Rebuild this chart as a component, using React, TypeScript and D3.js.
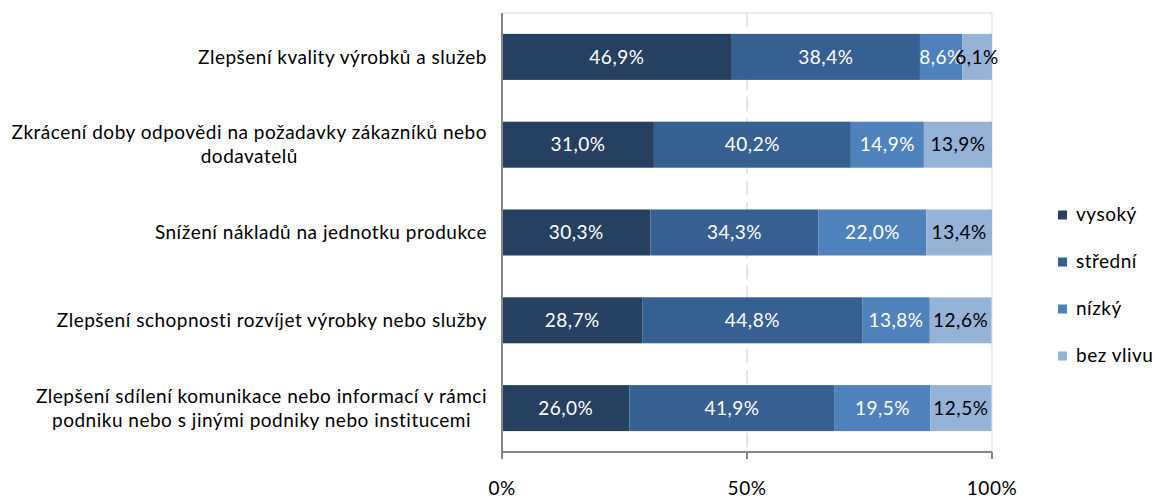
import React, { useEffect, useRef } from "react";
import * as d3 from "d3";

const categories: string[][] = [
  ["Zlepšení kvality výrobků a služeb"],
  ["Zkrácení doby odpovědi na požadavky zákazníků nebo", "dodavatelů"],
  ["Snížení nákladů na jednotku produkce"],
  ["Zlepšení schopnosti rozvíjet výrobky nebo služby"],
  ["Zlepšení sdílení komunikace nebo informací v rámci", "podniku nebo s jinými podniky nebo institucemi"],
];
const seriesNames = ["vysoký", "střední", "nízký", "bez vlivu"];
const vysoky = [46.9, 31.0, 30.3, 28.7, 26.0];
const stredni = [38.4, 40.2, 34.3, 44.8, 41.9];
const nizky = [8.6, 14.9, 22.0, 13.8, 19.5];
const bezVlivu = [6.1, 13.9, 13.4, 12.6, 12.5];
const colors = ["#254061", "#376092", "#4f81bd", "#95b3d7"];
const labelColors = ["#ffffff", "#ffffff", "#ffffff", "#000000"];
const xTicks = [0, 50, 100];

const W = 1155;
const H = 499;
const FONT = "Lato, 'Open Sans', sans-serif";
const FS = 19;
const LS = "0.5px";

export default function App() {
  const ref = useRef<SVGSVGElement | null>(null);

  useEffect(() => {
    const svg = d3.select(ref.current);
    svg.selectAll("*").remove();
    const values = [vysoky, stredni, nizky, bezVlivu];
    const left = 502, right = 992, top = 13, bottom = 452;
    const x = d3.scaleLinear().domain([0, 100]).range([left, right]);
    const y = d3
      .scaleBand<number>()
      .domain(d3.range(categories.length))
      .range([top, bottom])
      .paddingInner(0.476)
      .paddingOuter(0.238);

    svg.append("line").attr("x1", left).attr("x2", right).attr("y1", top).attr("y2", top)
      .attr("stroke", "#dce6f2").attr("stroke-width", 1.5);
    svg.append("line").attr("x1", right).attr("x2", right).attr("y1", top).attr("y2", bottom)
      .attr("stroke", "#dce6f2").attr("stroke-width", 1.5);
    svg.append("line").attr("x1", x(50)).attr("x2", x(50)).attr("y1", top).attr("y2", bottom)
      .attr("stroke", "#d4e0ef").attr("stroke-width", 1.5).attr("stroke-dasharray", "14,7");

    const g = svg.append("g");
    categories.forEach((_, i) => {
      let acc = 0;
      values.forEach((arr, s) => {
        const v = arr[i];
        const x0 = x(acc);
        const x1 = x(acc + v);
        g.append("rect")
          .attr("x", x0).attr("y", y(i)!)
          .attr("width", x1 - x0).attr("height", y.bandwidth())
          .attr("fill", colors[s]);
        g.append("text")
          .attr("x", (x0 + x1) / 2)
          .attr("y", y(i)! + y.bandwidth() / 2)
          .attr("dy", "0.35em")
          .attr("text-anchor", "middle")
          .attr("font-family", FONT)
          .attr("font-size", FS)
          .attr("letter-spacing", LS)
          .attr("fill", labelColors[s])
          .text(v.toFixed(1).replace(".", ",") + "%");
        acc += v;
      });
    });

    svg.append("line").attr("x1", left).attr("x2", right).attr("y1", bottom).attr("y2", bottom)
      .attr("stroke", "#868686").attr("stroke-width", 2);
    svg.append("line").attr("x1", left).attr("x2", left).attr("y1", top).attr("y2", bottom + 7)
      .attr("stroke", "#868686").attr("stroke-width", 2);
    xTicks.forEach((t) => {
      svg.append("line").attr("x1", x(t)).attr("x2", x(t)).attr("y1", bottom).attr("y2", bottom + 7)
        .attr("stroke", "#868686").attr("stroke-width", 2);
      svg.append("text")
        .attr("x", x(t)).attr("y", 488).attr("dy", "0.35em")
        .attr("text-anchor", "middle").attr("font-family", FONT).attr("font-size", FS)
        .attr("letter-spacing", LS)
        .attr("fill", "#000").text(t + "%");
    });

    const labelRight = 487;
    const lineH = 24;
    categories.forEach((lines, i) => {
      const cy = y(i)! + y.bandwidth() / 2;
      const t = svg.append("text")
        .attr("font-family", FONT).attr("font-size", FS).attr("fill", "#000")
        .attr("letter-spacing", LS)
        .attr("text-anchor", "middle");
      const spans = lines.map((ln, k) =>
        t.append("tspan")
          .attr("y", cy + (k - (lines.length - 1) / 2) * lineH)
          .attr("dy", "0.35em")
          .text(ln)
      );
      let maxW = 0;
      spans.forEach((sp) => {
        const w = (sp.node() as SVGTextContentElement).getComputedTextLength();
        if (w > maxW) maxW = w;
      });
      spans.forEach((sp) => sp.attr("x", labelRight - maxW / 2));
    });

    const legY = [215, 262, 309, 356];
    seriesNames.forEach((n, s) => {
      svg.append("rect").attr("x", 1058).attr("y", legY[s] - 4.5).attr("width", 9).attr("height", 9)
        .attr("fill", colors[s]);
      svg.append("text").attr("x", 1076).attr("y", legY[s]).attr("dy", "0.3em")
        .attr("font-family", FONT).attr("font-size", FS).attr("letter-spacing", LS)
        .attr("fill", "#000").text(n);
    });
  }, []);

  return (
    <svg
      ref={ref}
      width={W}
      height={H}
      style={{ position: "absolute", left: 0, top: 0, background: "#fff" }}
    />
  );
}
